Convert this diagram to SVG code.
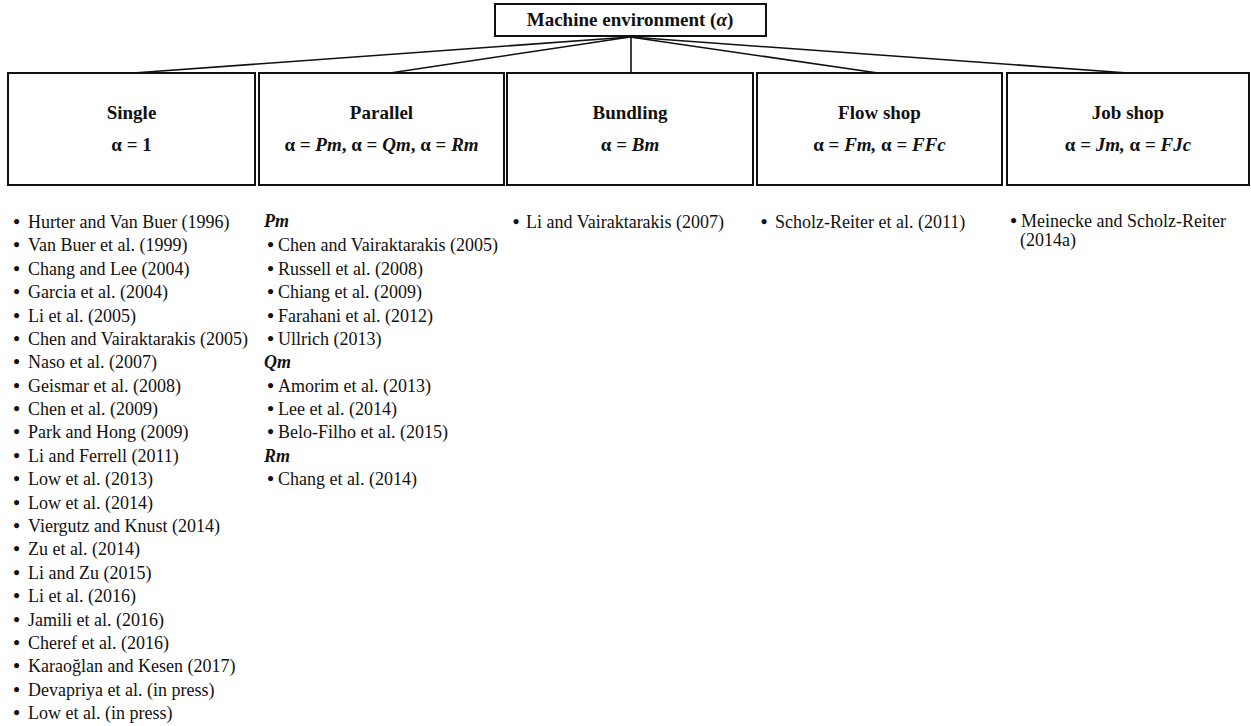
<svg xmlns="http://www.w3.org/2000/svg" width="1251" height="726" viewBox="0 0 1251 726">
<style>
.box{fill:#fff;stroke:#111;stroke-width:2}
.ln{stroke:#111;stroke-width:1.6;fill:none}
.t{font-family:"Liberation Serif","Times New Roman",serif;fill:#111}
.h{font-size:19px;font-weight:bold;text-anchor:middle}
.li{font-size:18px}
.bu{font-size:19px;font-weight:bold;text-anchor:middle}
.sub{font-size:18px;font-weight:bold;font-style:italic}
.it{font-style:italic}
</style>
<rect width="1251" height="726" fill="#fff"/>
<g id="connectors">
<line class="ln" x1="630" y1="37" x2="133" y2="73"/>
<line class="ln" x1="630" y1="37" x2="390" y2="73"/>
<line class="ln" x1="631" y1="37" x2="631" y2="73"/>
<line class="ln" x1="630" y1="37" x2="878" y2="73"/>
<line class="ln" x1="630" y1="37" x2="1128" y2="73"/>
</g>
<g id="root">
<rect class="box" x="495" y="4" width="271" height="32"/>
<text class="t h" x="630" y="26">Machine environment (<tspan class="it">α</tspan>)</text>
</g>
<g id="single">
<rect class="box" x="8" y="73" width="247" height="112"/>
<text class="t h" x="131.5" y="119">Single</text>
<text class="t h" x="131.5" y="151">α = 1</text>
</g>
<g id="parallel">
<rect class="box" x="259" y="73" width="245" height="112"/>
<text class="t h" x="381.5" y="119">Parallel</text>
<text class="t h" x="381.5" y="151">α = <tspan class="it">Pm</tspan>, α = <tspan class="it">Qm</tspan>, α = <tspan class="it">Rm</tspan></text>
</g>
<g id="bundling">
<rect class="box" x="507" y="73" width="246" height="112"/>
<text class="t h" x="630" y="119">Bundling</text>
<text class="t h" x="630" y="151">α = <tspan class="it">Bm</tspan></text>
</g>
<g id="flowshop">
<rect class="box" x="757" y="73" width="245" height="112"/>
<text class="t h" x="879.5" y="119">Flow shop</text>
<text class="t h" x="879.5" y="151">α = <tspan class="it">Fm,</tspan> α = <tspan class="it">FFc</tspan></text>
</g>
<g id="jobshop">
<rect class="box" x="1007" y="73" width="242" height="112"/>
<text class="t h" x="1128" y="119">Job shop</text>
<text class="t h" x="1128" y="151">α = <tspan class="it">Jm,</tspan> α = <tspan class="it">FJc</tspan></text>
</g>
<g id="single-list">
<text class="t bu" x="16.5" y="228">•</text><text class="t li" x="28" y="228">Hurter and Van Buer (1996)</text>
<text class="t bu" x="16.5" y="251.4">•</text><text class="t li" x="28" y="251.4">Van Buer et al. (1999)</text>
<text class="t bu" x="16.5" y="274.8">•</text><text class="t li" x="28" y="274.8">Chang and Lee (2004)</text>
<text class="t bu" x="16.5" y="298.1">•</text><text class="t li" x="28" y="298.1">Garcia et al. (2004)</text>
<text class="t bu" x="16.5" y="321.5">•</text><text class="t li" x="28" y="321.5">Li et al. (2005)</text>
<text class="t bu" x="16.5" y="344.9">•</text><text class="t li" x="28" y="344.9">Chen and Vairaktarakis (2005)</text>
<text class="t bu" x="16.5" y="368.3">•</text><text class="t li" x="28" y="368.3">Naso et al. (2007)</text>
<text class="t bu" x="16.5" y="391.7">•</text><text class="t li" x="28" y="391.7">Geismar et al. (2008)</text>
<text class="t bu" x="16.5" y="415">•</text><text class="t li" x="28" y="415">Chen et al. (2009)</text>
<text class="t bu" x="16.5" y="438.4">•</text><text class="t li" x="28" y="438.4">Park and Hong (2009)</text>
<text class="t bu" x="16.5" y="461.8">•</text><text class="t li" x="28" y="461.8">Li and Ferrell (2011)</text>
<text class="t bu" x="16.5" y="485.2">•</text><text class="t li" x="28" y="485.2">Low et al. (2013)</text>
<text class="t bu" x="16.5" y="508.6">•</text><text class="t li" x="28" y="508.6">Low et al. (2014)</text>
<text class="t bu" x="16.5" y="531.9">•</text><text class="t li" x="28" y="531.9">Viergutz and Knust (2014)</text>
<text class="t bu" x="16.5" y="555.3">•</text><text class="t li" x="28" y="555.3">Zu et al. (2014)</text>
<text class="t bu" x="16.5" y="578.7">•</text><text class="t li" x="28" y="578.7">Li and Zu (2015)</text>
<text class="t bu" x="16.5" y="602.1">•</text><text class="t li" x="28" y="602.1">Li et al. (2016)</text>
<text class="t bu" x="16.5" y="625.5">•</text><text class="t li" x="28" y="625.5">Jamili et al. (2016)</text>
<text class="t bu" x="16.5" y="648.8">•</text><text class="t li" x="28" y="648.8">Cheref et al. (2016)</text>
<text class="t bu" x="16.5" y="672.2">•</text><text class="t li" x="28" y="672.2">Karaoğlan and Kesen (2017)</text>
<text class="t bu" x="16.5" y="695.6">•</text><text class="t li" x="28" y="695.6">Devapriya et al. (in press)</text>
<text class="t bu" x="16.5" y="719">•</text><text class="t li" x="28" y="719">Low et al. (in press)</text>
</g>
<g id="parallel-list">
<text class="t sub" x="264" y="227">Pm</text>
<text class="t bu" x="270.5" y="251.4">•</text><text class="t li" x="278" y="251.4">Chen and Vairaktarakis (2005)</text>
<text class="t bu" x="270.5" y="274.8">•</text><text class="t li" x="278" y="274.8">Russell et al. (2008)</text>
<text class="t bu" x="270.5" y="298.1">•</text><text class="t li" x="278" y="298.1">Chiang et al. (2009)</text>
<text class="t bu" x="270.5" y="321.5">•</text><text class="t li" x="278" y="321.5">Farahani et al. (2012)</text>
<text class="t bu" x="270.5" y="344.9">•</text><text class="t li" x="278" y="344.9">Ullrich (2013)</text>
<text class="t sub" x="264" y="368.3">Qm</text>
<text class="t bu" x="270.5" y="391.7">•</text><text class="t li" x="278" y="391.7">Amorim et al. (2013)</text>
<text class="t bu" x="270.5" y="415">•</text><text class="t li" x="278" y="415">Lee et al. (2014)</text>
<text class="t bu" x="270.5" y="438.4">•</text><text class="t li" x="278" y="438.4">Belo-Filho et al. (2015)</text>
<text class="t sub" x="264" y="461.8">Rm</text>
<text class="t bu" x="270.5" y="485.2">•</text><text class="t li" x="278" y="485.2">Chang et al. (2014)</text>
</g>
<g id="bundling-list">
<text class="t bu" x="516" y="228">•</text><text class="t li" x="526" y="228">Li and Vairaktarakis (2007)</text>
</g>
<g id="flowshop-list">
<text class="t bu" x="764" y="228">•</text><text class="t li" x="775" y="228">Scholz-Reiter et al. (2011)</text>
</g>
<g id="jobshop-list">
<text class="t bu" x="1013.5" y="227">•</text><text class="t li" x="1021" y="227">Meinecke and Scholz-Reiter</text>
<text class="t li" x="1020" y="245.5">(2014a)</text>
</g>
</svg>
